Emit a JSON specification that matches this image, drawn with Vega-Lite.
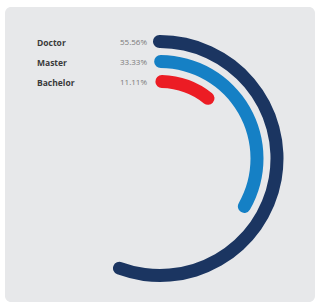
{
  "$schema": "https://vega.github.io/schema/vega-lite/v6.json",
  "width": 322,
  "height": 308,
  "autosize": {"type": "fit", "contains": "padding"},
  "padding": {"left": 5, "right": 7, "top": 7, "bottom": 6},
  "background": "#ffffff",
  "view": {"fill": "#e7e8ea", "stroke": null, "cornerRadius": 6},
  "data": {
    "values": [
      {"category": "Doctor", "share": 0.5556},
      {"category": "Master", "share": 0.3333},
      {"category": "Bachelor", "share": 0.1111}
    ]
  },
  "layer": [
    {
      "mark": {"type": "arc", "cornerRadius": 6.5, "radiusOffset": 6.5, "radius2Offset": -6.5, "thetaOffset": 0.06, "theta2Offset": -0.06, "yOffset": 4},
      "encoding": {
        "theta": {"field": "share", "type": "quantitative", "stack": null, "scale": {"domain": [0, 1], "range": [0, 6.283185]}},
        "theta2": {"datum": 0},
        "radius": {"field": "category", "type": "ordinal", "sort": ["Bachelor", "Master", "Doctor"], "scale": {"type": "point", "range": [77, 117], "padding": 0}},
        "radius2": {"field": "category"},
        "color": {"field": "category", "type": "nominal", "legend": null, "scale": {"domain": ["Doctor", "Master", "Bachelor"], "range": ["#1b3561", "#1580c5", "#ec1c24"]}}
      }
    },
    {
      "mark": {"type": "text", "align": "left", "baseline": "middle", "dx": -123, "dy": 1, "yOffset": 4, "font": "Open Sans", "fontWeight": "bold", "fontSize": 8.5, "color": "#3a3a3a"},
      "encoding": {
        "theta": {"datum": 0},
        "radius": {"field": "category", "type": "ordinal", "sort": ["Bachelor", "Master", "Doctor"]},
        "text": {"field": "category"}
      }
    },
    {
      "mark": {"type": "text", "align": "right", "baseline": "middle", "dx": -13, "dy": 1, "yOffset": 4, "font": "Open Sans", "fontSize": 8, "color": "#7a7a7a"},
      "encoding": {
        "theta": {"datum": 0},
        "radius": {"field": "category", "type": "ordinal", "sort": ["Bachelor", "Master", "Doctor"]},
        "text": {"field": "share", "type": "quantitative", "format": ".2%"}
      }
    }
  ]
}
